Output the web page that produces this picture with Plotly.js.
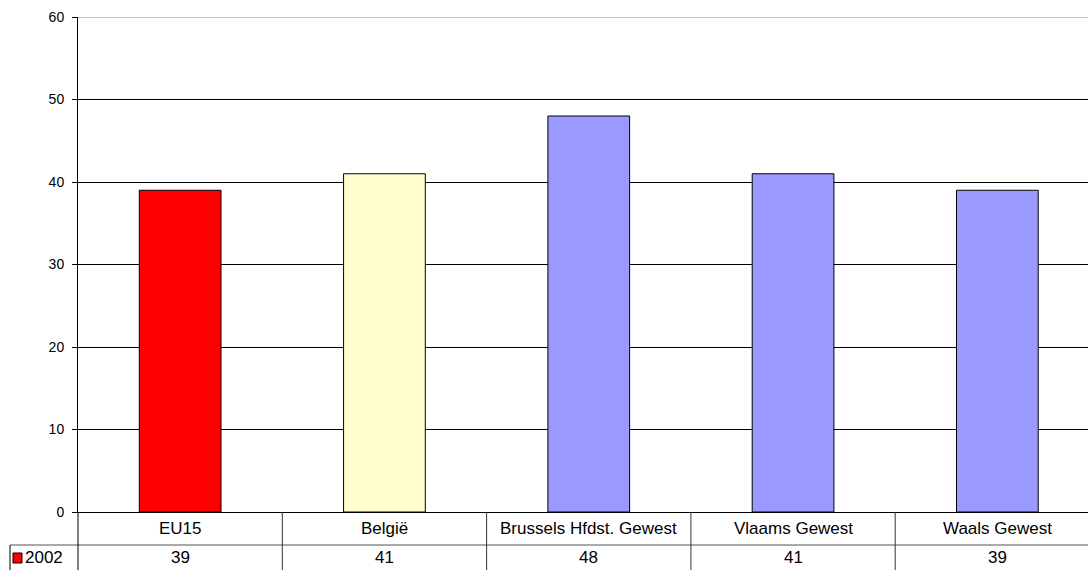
<!DOCTYPE html>
<html>
<head>
<meta charset="utf-8">
<script src="https://cdn.plot.ly/plotly-3.0.1.min.js"></script>
<style>html,body{margin:0;padding:0;background:#fff;}#chart{width:1088px;height:570px;}</style>
</head>
<body>
<div id="chart"></div>
<script>
const categories = ["EU15", "België", "Brussels Hfdst. Gewest", "Vlaams Gewest", "Waals Gewest"];
const values2002 = [39, 41, 48, 41, 39];
const seriesName = "2002";
const barColors = ["#FF0000", "#FFFFCC", "#9999FF", "#9999FF", "#9999FF"];
const yTicks = [0, 10, 20, 30, 40, 50, 60];

const W = 1088, H = 570;
const mL = 78, mR = 0, mT = 17, mB = 58;
const plotW = W - mL - mR, plotH = H - mT - mB;
const catPx = 204.3;
const xRange = [-0.5, -0.5 + plotW / catPx];
const px2x = p => (p - mL) / plotW;          // pixel -> paper x
const py2y = p => (H - mB - p) / plotH;      // pixel -> paper y

const font = "Liberation Sans, Arial, sans-serif";
const idx = categories.map((c, i) => i);

const trace = {
  type: "bar",
  x: idx,
  y: values2002,
  name: seriesName,
  width: 0.4,
  marker: { color: barColors, line: { color: "#000000", width: 1 } },
  hoverinfo: "none"
};

const shapes = [];
const lineStyle = { color: "#000000", width: 1 };
shapes.push({ type: "line", xref: "paper", yref: "paper", x0: px2x(10), x1: 1, y0: py2y(545), y1: py2y(545), line: { color: "#555555", width: 1 } });
shapes.push({ type: "line", xref: "paper", yref: "paper", x0: px2x(10), x1: px2x(10), y0: py2y(545), y1: py2y(570), line: lineStyle });
shapes.push({ type: "line", xref: "paper", yref: "paper", x0: 0, x1: 0, y0: 0, y1: py2y(570), line: lineStyle });
for (let k = 0; k < categories.length - 1; k++) {
  shapes.push({ type: "line", xref: "x", yref: "paper", x0: k + 0.5, x1: k + 0.5, y0: 0, y1: py2y(570), line: { color: "#333333", width: 1 } });
}
shapes.push({ type: "line", xref: "paper", yref: "y", x0: 0, x1: 1, y0: 60, y1: 60, line: { color: "#808080", width: 1 } });
shapes.push({ type: "rect", xref: "paper", yref: "paper", x0: px2x(13), x1: px2x(22), y0: py2y(563), y1: py2y(553), fillcolor: barColors[0], line: { color: "#000000", width: 1 } });

const annotations = [];
const tFont = { family: font, size: 17, color: "#000" };
categories.forEach((c, i) => {
  annotations.push({ xref: "x", yref: "paper", x: i, y: 0, yshift: -16, yanchor: "middle", xanchor: "center", text: c, showarrow: false, font: tFont });
  annotations.push({ xref: "x", yref: "paper", x: i, y: 0, yshift: -45, yanchor: "middle", xanchor: "center", text: String(values2002[i]), showarrow: false, font: tFont });
});
annotations.push({ xref: "paper", yref: "paper", x: px2x(23), y: 0, yshift: -45, yanchor: "middle", xanchor: "left", text: seriesName, showarrow: false, font: tFont });

const layout = {
  width: W, height: H,
  margin: { l: mL, r: mR, t: mT, b: mB, pad: 0 },
  paper_bgcolor: "#ffffff",
  plot_bgcolor: "#ffffff",
  showlegend: false,
  font: { family: font, size: 14, color: "#000" },
  xaxis: {
    range: xRange,
    showticklabels: false,
    ticks: "",
    showgrid: false,
    zeroline: false,
    showline: true,
    linecolor: "#000000",
    linewidth: 1,
    fixedrange: true
  },
  yaxis: {
    range: [0, 60],
    tickvals: yTicks,
    ticktext: yTicks.map(String),
    ticks: "outside",
    ticklen: 5,
    tickcolor: "#000000",
    ticklabelstandoff: 5,
    tickfont: { family: font, size: 14, color: "#000" },
    showgrid: true,
    gridcolor: "#000000",
    gridwidth: 1,
    zeroline: false,
    showline: true,
    linecolor: "#000000",
    linewidth: 1,
    fixedrange: true
  },
  shapes: shapes,
  annotations: annotations
};

Plotly.newPlot("chart", [trace], layout, { displayModeBar: false, staticPlot: true });
</script>
</body>
</html>
